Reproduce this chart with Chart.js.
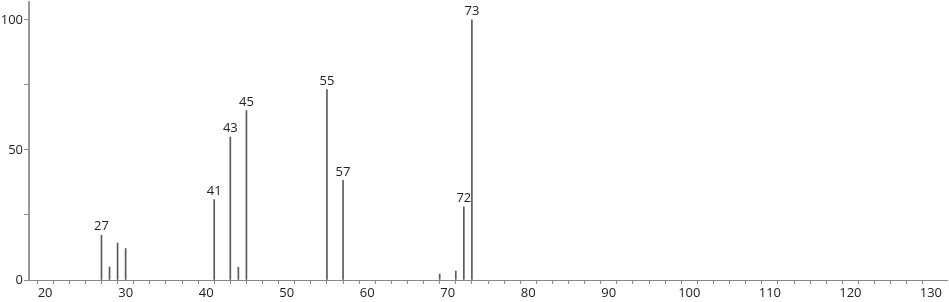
<!DOCTYPE html>
<html>
<head>
<meta charset="utf-8">
<script src="https://cdn.jsdelivr.net/npm/chart.js@4.4.0/dist/chart.umd.min.js"></script>
<style>
  html, body { margin: 0; padding: 0; background: #fff; }
  #wrap { width: 949px; height: 302px; }
</style>
</head>
<body>
<div id="wrap"><canvas id="spectrum"></canvas></div>
<script>
// m/z values and relative abundance
const mz = [27, 28, 29, 30, 41, 43, 44, 45, 55, 57, 69, 71, 72, 73];
const abundance = [17.2, 5.0, 14.2, 12.1, 30.9, 54.9, 4.9, 65.1, 73.2, 38.3, 2.3, 3.4, 28.1, 100];
const labelled = [27, 41, 43, 45, 55, 57, 72, 73]; // peaks that carry a number
const xTickLabels = [20, 30, 40, 50, 60, 70, 80, 90, 100, 110, 120, 130];
const yTickLabels = [0, 50, 100];

const fontFamily = '"Open Sans", "DejaVu Sans", sans-serif';
const yMax = 107;

// writes the m/z number above the labelled peaks
const peakLabels = {
  id: 'peakLabels',
  afterDatasetsDraw(chart) {
    const ctx = chart.ctx;
    const meta = chart.getDatasetMeta(0);
    ctx.save();
    ctx.font = '13px ' + fontFamily;
    ctx.fillStyle = '#222';
    ctx.textAlign = 'center';
    ctx.textBaseline = 'bottom';
    meta.data.forEach((bar, i) => {
      if (labelled.includes(mz[i])) {
        ctx.fillText(String(mz[i]), bar.x, bar.y - 2);
      }
    });
    ctx.restore();
  }
};

new Chart(document.getElementById('spectrum'), {
  type: 'bar',
  data: {
    datasets: [{
      data: mz.map((m, i) => ({ x: m, y: abundance[i] })),
      backgroundColor: '#5a5a5a',
      borderWidth: 0,
      barThickness: 1,
      grouped: false
    }]
  },
  options: {
    responsive: true,
    maintainAspectRatio: false,
    animation: false,
    layout: { padding: { top: 1, right: 2, left: 0, bottom: 0 } },
    plugins: { legend: { display: false }, tooltip: { enabled: false } },
    scales: {
      x: {
        type: 'linear',
        offset: false,
        min: 18,
        max: 132,
        afterFit(scale) { scale.height = 22; },
        border: { color: '#888', width: 1 },
        grid: {
          drawOnChartArea: false, drawTicks: true, tickLength: 4,
          color: c => (c.tick && c.tick.value > 131) ? 'rgba(0,0,0,0)' : '#888'
        },
        ticks: {
          stepSize: 2,
          autoSkip: false,
          maxRotation: 0,
          padding: 1,
          color: '#222',
          font: { family: fontFamily, size: 13 },
          callback: v => xTickLabels.includes(v) ? String(v) : ''
        }
      },
      y: {
        min: 0,
        max: yMax,
        afterFit(scale) { scale.width = 29; },
        border: { color: '#999', width: 2 },
        grid: {
          drawOnChartArea: false, drawTicks: true, tickLength: 5,
          color: c => (c.tick && c.tick.value === yMax) ? 'rgba(0,0,0,0)' : '#888'
        },
        ticks: {
          stepSize: 25,
          autoSkip: false,
          padding: 1,
          color: '#222',
          font: c => ({ family: fontFamily, size: (c.tick && c.tick.value === yMax) ? 1 : 13 }),
          callback: v => yTickLabels.includes(v) ? String(v) : ''
        }
      }
    }
  },
  plugins: [peakLabels]
});
</script>
</body>
</html>
